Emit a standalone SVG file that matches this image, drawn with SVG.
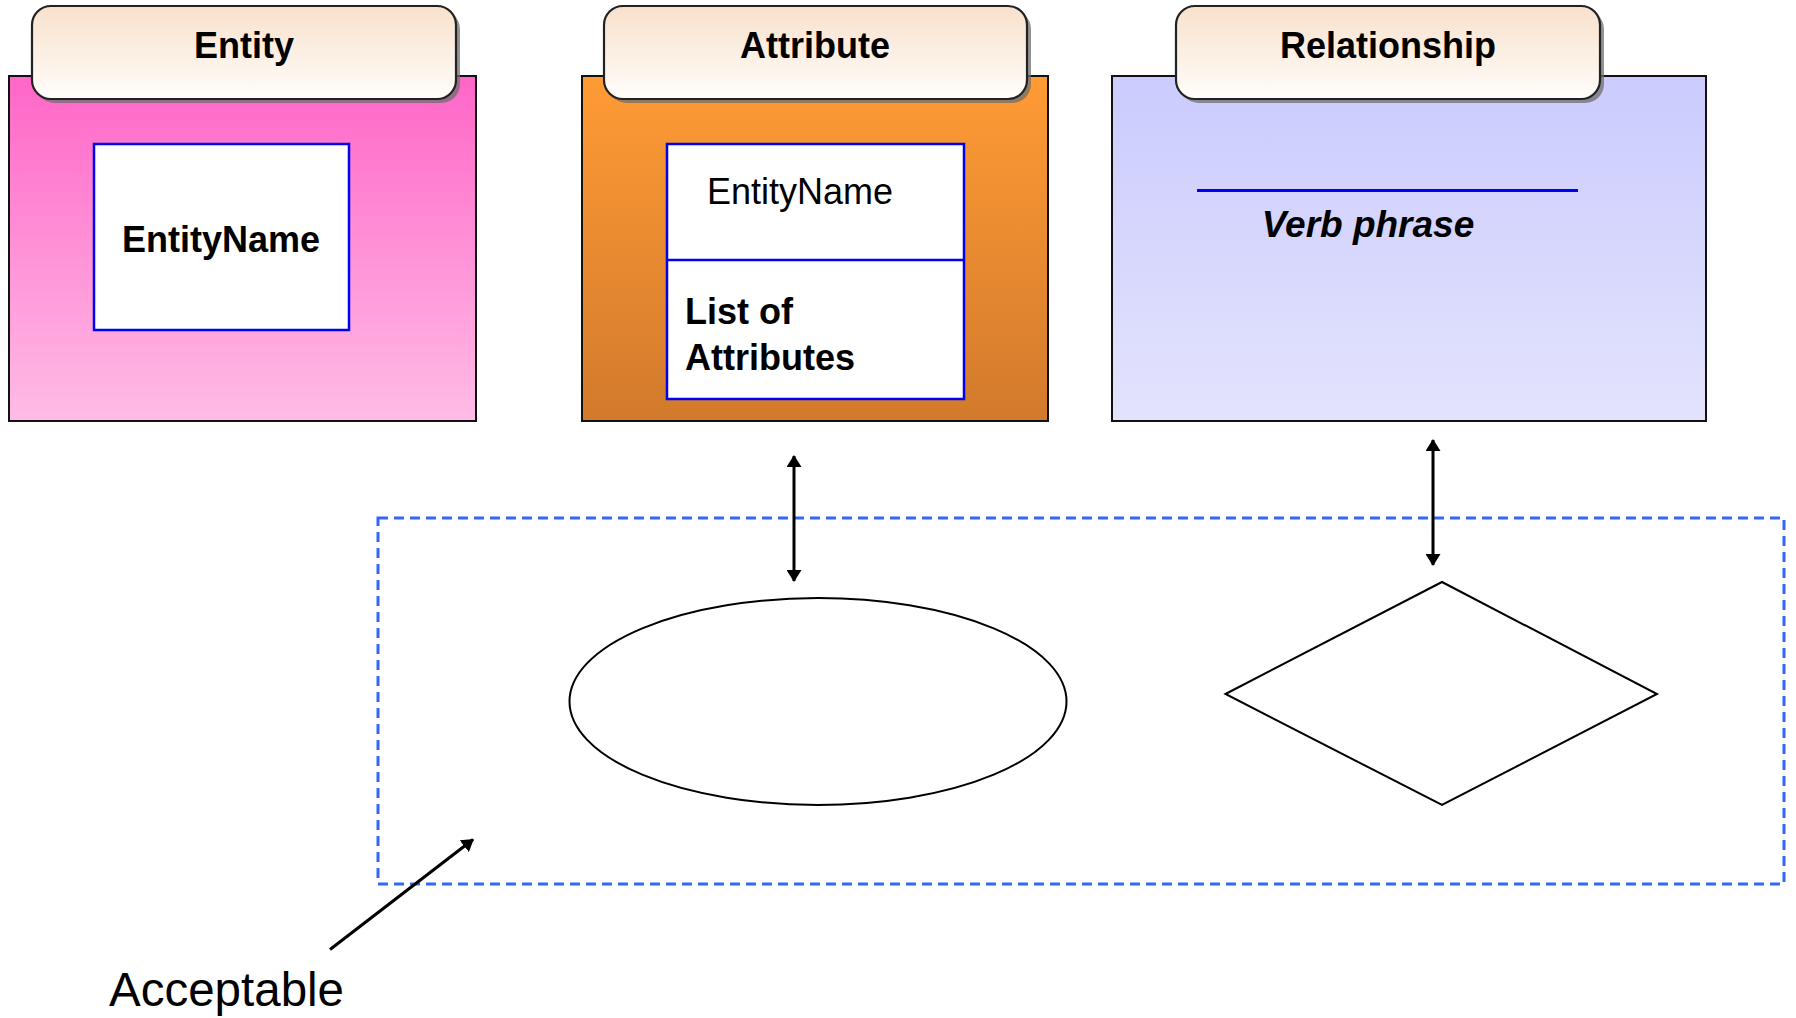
<svg xmlns="http://www.w3.org/2000/svg" width="1796" height="1018" viewBox="0 0 1796 1018">
  <defs>
    <linearGradient id="gPink" x1="0" y1="0" x2="0" y2="1">
      <stop offset="0" stop-color="#FF66C8"/>
      <stop offset="1" stop-color="#FFBCE6"/>
    </linearGradient>
    <linearGradient id="gOrange" x1="0" y1="0" x2="0" y2="1">
      <stop offset="0" stop-color="#FF9B35"/>
      <stop offset="1" stop-color="#D27A2C"/>
    </linearGradient>
    <linearGradient id="gLav" x1="0" y1="0" x2="0" y2="1">
      <stop offset="0" stop-color="#CBCBFD"/>
      <stop offset="1" stop-color="#E3E3FD"/>
    </linearGradient>
    <linearGradient id="gHead" x1="0" y1="0" x2="0" y2="1">
      <stop offset="0" stop-color="#F8E1CC"/>
      <stop offset="1" stop-color="#FFFDFB"/>
    </linearGradient>
    <marker id="ah" viewBox="0 0 12 15" refX="11" refY="7.5" markerWidth="12" markerHeight="15" markerUnits="userSpaceOnUse" orient="auto-start-reverse">
      <path d="M0,0 L12,7.5 L0,15 Z" fill="#000"/>
    </marker>
  </defs>
  <style>
    .panel { stroke: #111; stroke-width: 2; }
    .head { fill: url(#gHead); stroke: #222; stroke-width: 2.2; }
    .shadow { fill: #6e6e6e; opacity: 0.75; }
    .inner { fill: #fff; stroke: #0000EE; stroke-width: 2.5; }
    .title { font-family: "Liberation Sans", Arial, sans-serif; font-weight: bold; font-size: 36px; fill: #000; text-anchor: middle; }
    .txt { font-family: "Liberation Sans", Arial, sans-serif; font-size: 36px; fill: #000; }
    .conn { stroke: #000; stroke-width: 3; fill: none; }
    .shape { fill: #fff; stroke: #000; stroke-width: 2; }
  </style>

  <rect width="1796" height="1018" fill="#fff"/>

  <!-- Entity notation panel -->
  <g id="entity">
    <rect class="panel" x="9" y="76" width="467" height="345" fill="url(#gPink)"/>
    <rect class="shadow" x="36" y="10" width="424" height="93" rx="19"/>
    <rect class="head" x="32" y="6" width="424" height="93" rx="19"/>
    <text class="title" x="244" y="58">Entity</text>
    <rect class="inner" x="94" y="144" width="255" height="186"/>
    <text class="title" x="221" y="252">EntityName</text>
  </g>

  <!-- Attribute notation panel -->
  <g id="attribute">
    <rect class="panel" x="582" y="76" width="466" height="345" fill="url(#gOrange)"/>
    <rect class="shadow" x="608" y="10" width="423" height="93" rx="19"/>
    <rect class="head" x="604" y="6" width="423" height="93" rx="19"/>
    <text class="title" x="815" y="58">Attribute</text>
    <rect class="inner" x="667" y="144" width="297" height="255"/>
    <line x1="667" y1="260" x2="964" y2="260" stroke="#0000EE" stroke-width="2.5"/>
    <text class="txt" x="707" y="204">EntityName</text>
    <text class="txt" x="685" y="324" font-weight="bold">List of</text>
    <text class="txt" x="685" y="370" font-weight="bold">Attributes</text>
  </g>

  <!-- Relationship notation panel -->
  <g id="relationship">
    <rect class="panel" x="1112" y="76" width="594" height="345" fill="url(#gLav)"/>
    <rect class="shadow" x="1180" y="10" width="424" height="93" rx="19"/>
    <rect class="head" x="1176" y="6" width="424" height="93" rx="19"/>
    <text class="title" x="1388" y="58">Relationship</text>
    <line x1="1197" y1="190.5" x2="1578" y2="190.5" stroke="#0000EE" stroke-width="3"/>
    <text class="txt" x="1368" y="237" font-weight="bold" font-style="italic" text-anchor="middle" style="font-size:37px">Verb phrase</text>
  </g>

  <!-- Acceptable alternative notation -->
  <g id="acceptable-frame">
    <rect x="378" y="518" width="1406" height="366" fill="none" stroke="#3366FF" stroke-width="3" stroke-dasharray="10,6"/>
  </g>
  <g id="attribute-ellipse">
    <ellipse class="shape" cx="818" cy="701.5" rx="248.5" ry="103.5"/>
  </g>
  <g id="relationship-diamond">
    <polygon class="shape" points="1225.5,694 1442,582 1657,694 1442,805"/>
  </g>
  <g id="acceptable-label">
    <text class="txt" x="109" y="1006" style="font-size:47.5px">Acceptable</text>
  </g>

  <!-- Connectors -->
  <g id="connectors">
    <line class="conn" x1="794" y1="456" x2="794" y2="581" marker-start="url(#ah)" marker-end="url(#ah)"/>
    <line class="conn" x1="1433" y1="440" x2="1433" y2="565" marker-start="url(#ah)" marker-end="url(#ah)"/>
    <line class="conn" x1="330" y1="949.5" x2="473" y2="839.5" stroke-width="2" marker-end="url(#ah)"/>
  </g>
</svg>
